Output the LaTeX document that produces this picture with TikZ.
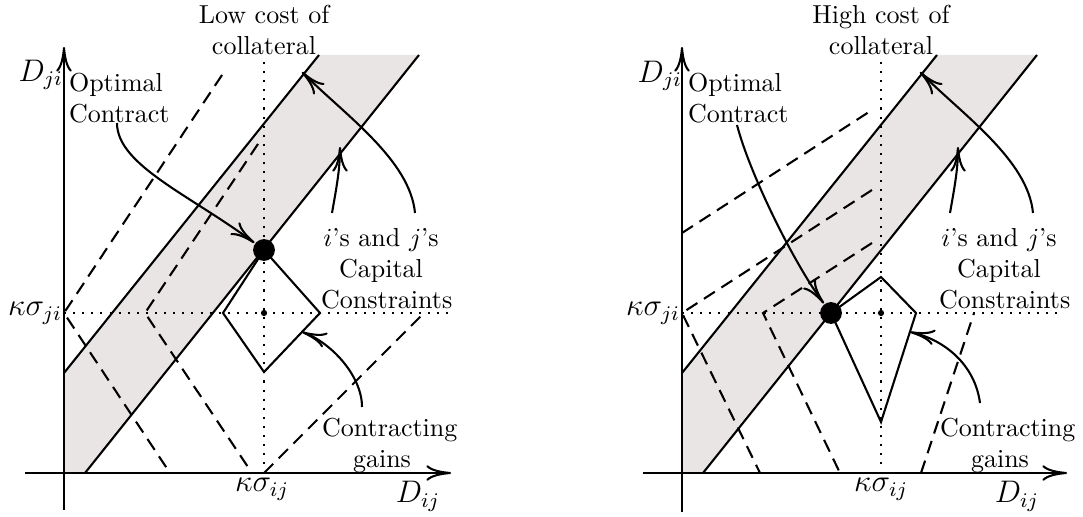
\documentclass[tikz,border=0pt]{standalone}
\usetikzlibrary{arrows.meta}
\definecolor{bandgray}{RGB}{233,229,229}
\begin{document}
\begin{tikzpicture}[x=0.384615pt,y=-0.384615pt,
  line width=0.8pt,
  >={To[length=9.5pt,width=6pt]},
  bandfill/.style={fill=bandgray,draw=none},
  dsh/.style={dash pattern=on 5pt off 3pt},
  dtt/.style={dash pattern=on 0.8pt off 2.7pt},
  lbl/.style={inner sep=0pt,text width=46pt,align=center},
  ttl/.style={inner sep=0pt,align=center},
  bigdot/.style={circle,fill=black,inner sep=0pt,minimum size=8.4pt},
  smalldot/.style={circle,fill=black,inner sep=0pt,minimum size=2.4pt},
  axislabel/.style={inner sep=0pt,font=\large}]
\useasboundingbox (0,0) rectangle (1083,517);

% ---------------- Left panel ----------------
\fill[bandfill] (64,473) -- (85,473) -- (419,55) -- (319,55) -- (64,373) -- cycle;
\draw[dsh] (222,75) -- (64,313) -- (170,473);
\draw[dsh] (258,144) -- (145,313) -- (252,473);
\draw[dsh] (264,473) -- (424,313);
\draw[dtt] (264,62) -- (264,473);
\draw[dtt] (64,313) -- (448,313);
\draw (64,373) -- (319,55);
\draw (85,473) -- (419,55);
\draw (264,250) -- (320,313) -- (264,372) -- (223,313) -- cycle;
\draw[->] (25,473) -- (451,473);
\draw[->] (64,510) -- (64,47);
\node[smalldot] (cL) at (264,313) {};
\node[bigdot] (ocL) at (264,250) {};

\node[axislabel,anchor=east] (djiL) at (64,75) {$D_{ji}$};
\node[axislabel,anchor=east] (ksjiL) at (63,313) {$\kappa\sigma_{ji}$};
\node[axislabel,anchor=north] (ksijL) at (262,477) {$\kappa\sigma_{ij}$};
\node[axislabel,anchor=north] (dijL) at (418,480) {$D_{ij}$};
\node[ttl,anchor=north] (titleL) at (264,4) {Low cost of\\collateral};
\node[inner sep=0pt,anchor=north west,align=left] (optL) at (68,72) {Optimal\\Contract};
\node[lbl,anchor=north] (capL) at (381,227) {$i$'s and $j$'s\\Capital\\\mbox{Constraints}};
\node[lbl,anchor=north] (gainL) at (382,417) {\mbox{Contracting}\\gains};

\coordinate (ocsL) at (117,123);
\draw[->] (ocsL) .. controls (117,165) and (190,195) .. (ocL);
\coordinate (cc1sL) at (415,213);
\coordinate (cc1tL) at (302,72);
\draw[->] (cc1sL) .. controls (410,160) and (345,115) .. (cc1tL);
\coordinate (cc2sL) at (332,213);
\coordinate (cc2tL) at (340,147);
\draw[->] (cc2sL) .. controls (336,190) and (340,170) .. (cc2tL);
\coordinate (cgsL) at (362,407);
\coordinate (cgtL) at (302,332);
\draw[->] (cgsL) .. controls (362,375) and (330,342) .. (cgtL);

% ---------------- Right panel ----------------
\fill[bandfill] (682,473) -- (703,473) -- (1037,55) -- (937,55) -- (682,373) -- cycle;
\draw[dsh] (682,233) -- (872,110);
\draw[dsh] (872,190) -- (682,313) -- (760,473);
\draw[dsh] (872,243) -- (763,313) -- (840,473);
\draw[dsh] (921,473) -- (974,313);
\draw[dtt] (881,62) -- (881,473);
\draw[dtt] (682,313) -- (1062,313);
\draw (682,373) -- (937,55);
\draw (703,473) -- (1037,55);
\draw (831,313) -- (881,277) -- (916,313) -- (881,422) -- cycle;
\draw[->] (643,473) -- (1067,473);
\draw[->] (682,512) -- (682,47);
\node[smalldot] (cR) at (881,313) {};
\node[bigdot] (ocR) at (831,313) {};

\node[axislabel,anchor=east] (djiR) at (683,76) {$D_{ji}$};
\node[axislabel,anchor=east] (ksjiR) at (681,313) {$\kappa\sigma_{ji}$};
\node[axislabel,anchor=north] (ksijR) at (881,477) {$\kappa\sigma_{ij}$};
\node[axislabel,anchor=north] (dijR) at (1017,480) {$D_{ij}$};
\node[ttl,anchor=north] (titleR) at (881,4) {High cost of\\collateral};
\node[inner sep=0pt,anchor=north west,align=left] (optR) at (687,72) {Optimal\\Contract};
\node[lbl,anchor=north] (capR) at (999,227) {$i$'s and $j$'s\\Capital\\\mbox{Constraints}};
\node[lbl,anchor=north] (gainR) at (1000,417) {\mbox{Contracting}\\gains};

\coordinate (ocsR) at (737,125);
\draw[->] (ocsR) .. controls (750,175) and (795,265) .. (ocR);
\coordinate (cc1sR) at (1033,213);
\coordinate (cc1tR) at (920,72);
\draw[->] (cc1sR) .. controls (1028,160) and (963,115) .. (cc1tR);
\coordinate (cc2sR) at (950,213);
\coordinate (cc2tR) at (958,147);
\draw[->] (cc2sR) .. controls (954,190) and (958,170) .. (cc2tR);
\coordinate (cgsR) at (980,403);
\coordinate (cgtR) at (910,332);
\draw[->] (cgsR) .. controls (975,365) and (945,340) .. (cgtR);
\end{tikzpicture}
\end{document}
